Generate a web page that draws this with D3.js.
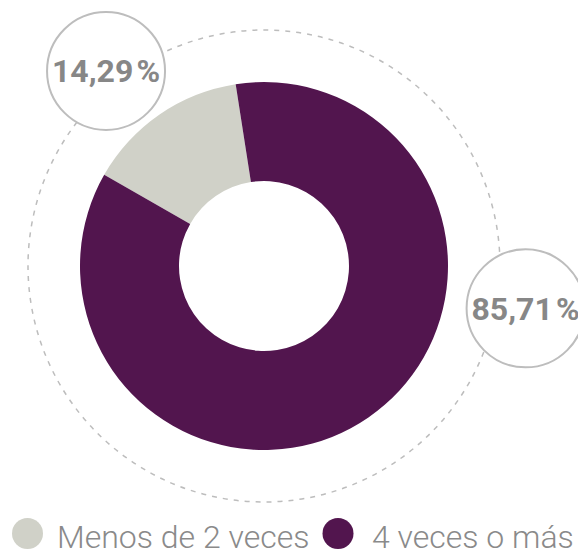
<!DOCTYPE html>
<html><head><meta charset="utf-8">
<script src="https://cdn.jsdelivr.net/npm/d3@7"></script>
<style>body{margin:0;background:#fff;}svg{display:block;font-family:Roboto,"Noto Sans",sans-serif;}</style>
</head><body>
<script>
const categories = ["Menos de 2 veces", "4 veces o más"];
const values = [14.29, 85.71];
const labels = ["14,29\u200A%", "85,71\u200A%"];
const colors = ["#D0D1C8", "#52154E"];

const W = 578, H = 550;
const cx = 264, cy = 266;
const svg = d3.select("body").append("svg").attr("width", W).attr("height", H);
const g = svg.append("g").attr("transform", `translate(${cx},${cy})`);

// dashed guide circle
g.append("circle").attr("r", 236).attr("fill", "none")
  .attr("stroke", "#bdbdbd").attr("stroke-width", 1.5).attr("stroke-dasharray", "5,6");

const pie = d3.pie().sort(null).value(d => d)
  .startAngle(-60.3 * Math.PI / 180).endAngle((360 - 60.3) * Math.PI / 180);
const arcs = pie(values);
const arc = d3.arc().innerRadius(85).outerRadius(184);
g.selectAll("path.slice").data(arcs).enter().append("path")
  .attr("class", "slice").attr("d", arc).attr("fill", (d, i) => colors[i]);

// label bubbles (placed by angle/radius around the center)
const labelPos = [{a: -39, r: 251}, {a: 99.2, r: 265}];
arcs.forEach((d, i) => {
  const a = labelPos[i].a * Math.PI / 180, r = labelPos[i].r;
  const x = Math.sin(a) * r, y = -Math.cos(a) * r;
  const lg = g.append("g").attr("transform", `translate(${x},${y})`);
  lg.append("circle").attr("r", 59).attr("fill", "#fff")
    .attr("stroke", "#bdbdbd").attr("stroke-width", 2);
  lg.append("text").attr("text-anchor", "middle").attr("dy", "0.35em")
    .attr("font-size", 32).attr("font-weight", 700).attr("fill", "#878787")
    .text(labels[i]);
});

// legend
const legend = svg.append("g");
const legX = [27.5, 338];
const legTextX = [57, 372];
categories.forEach((c, i) => {
  legend.append("circle").attr("cx", legX[i]).attr("cy", 533.5).attr("r", 15.5).attr("fill", colors[i]);
  legend.append("text").attr("x", legTextX[i]).attr("y", 548)
    .attr("font-size", 32).attr("font-weight", 300).attr("fill", "#8a8a8a").text(c);
});
</script>
</body></html>
